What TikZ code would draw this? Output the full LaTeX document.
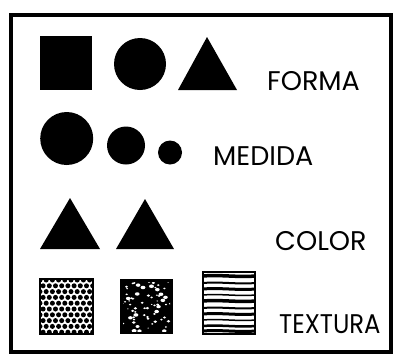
\documentclass[tikz,border=0pt]{standalone}
\usepackage{fontspec}
\setmainfont{Poppins}
\usepackage{tikz}

\begin{document}
\begin{tikzpicture}[x=1pt,y=-1pt]
\useasboundingbox (0,0) rectangle (398,362);
\tikzset{label_text/.style={anchor=base west,inner sep=0pt,font=\fontsize{27}{27}\selectfont},
         solid_shape/.style={fill=black,draw=none},
         tex_box/.style={draw=black,line width=2.4pt}}
% frame
\draw [line width=3.5pt] (11,15) rectangle (391,352);
% row 1: forma
\fill [solid_shape] (40,36) rectangle (92,90);
\fill [solid_shape] (140,64) circle (26);
\fill [solid_shape] (178,90) -- (207,37) -- (237,90) -- cycle;
% row 2: medida
\fill [solid_shape] (66.7,138.5) circle (26.5);
\fill [solid_shape] (126,145.5) circle (19);
\fill [solid_shape] (170,152.5) circle (12);
% row 3: color
\fill [solid_shape] (40,249) -- (70,198) -- (100,249) -- cycle;
\fill [solid_shape] (116,249) -- (145,199) -- (174,249) -- cycle;
% row 4: textura
\begin{scope}
  \clip (40,279) rectangle (93,334);
  \foreach \j in {0,...,9} {
    \foreach \i in {0,...,9} {
      \pgfmathsetmacro{\dx}{mod(\j,2)*3.1}
      \fill (40+\i*6.2+\dx,280+\j*5.8) circle (2.5);
    }
  }
\end{scope}
\draw [tex_box] (40,279) rectangle (93,334);
\fill [solid_shape] (120,279) rectangle (173,334);
\begin{scope}
  \clip (123,282) rectangle (170,331);
  \pgfmathsetseed{31}
  \foreach \k in {1,...,70} {
    \pgfmathsetmacro{\px}{122+49*rnd}
    \pgfmathsetmacro{\py}{281+51*rnd}
    \pgfmathsetmacro{\pr}{0.5+1.3*rnd}
    \fill [white] (\px,\py) ellipse ({\pr*1.4} and \pr);
  }
\end{scope}
\begin{scope}
  \clip (203,272) rectangle (255,334);
  \foreach \y/\w in {276/3.5,283/2,289/3,295/1.5,301/3.5,308/2,314/3,320/1.5,326/2.5,331/3} {
    \draw [line width=\w pt] (203,\y) .. controls (220,\y-1.5) and (238,\y+1.5) .. (255,\y);
  }
\end{scope}
\draw [tex_box] (203,272) rectangle (255,334);
% labels
\begin{scope}[every node/.style={label_text}]
  \node (forma) at (267,90) {FORMA};
  \node (medida) at (213,165) {MEDIDA};
  \node (color) at (275,250) {COLOR};
  \node [xscale=0.9] (textura) at (279,333) {TEXTURA};
\end{scope}
\end{tikzpicture}
\end{document}
